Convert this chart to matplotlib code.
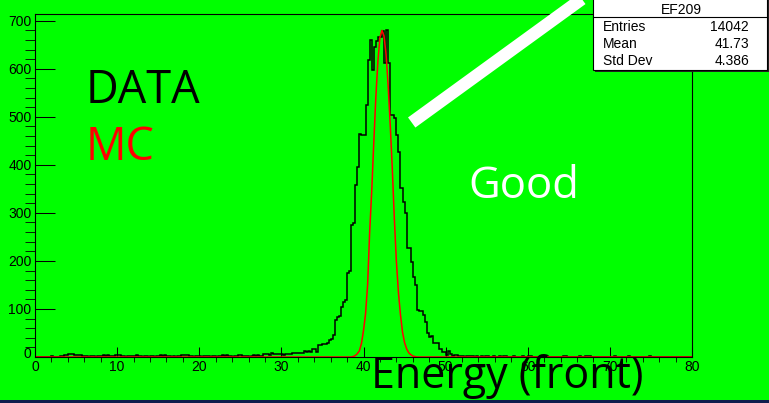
import numpy as np
import matplotlib.pyplot as plt
from matplotlib.patches import Rectangle
from matplotlib.lines import Line2D
from matplotlib.transforms import ScaledTranslation

plt.rcParams['font.family'] = ['Liberation Sans', 'DejaVu Sans']

# EF209 data histogram, 0.25 wide bins from 0 to 80
counts_low = [0, 0, 0, 0, 1, 0, 0, 0, 2, 0, 0, 1,
              3, 3, 5, 5, 6, 6, 6, 4, 5, 4, 4, 3, 3,
              2, 1, 2, 3, 1, 2, 2, 3, 4, 3, 4, 3, 2, 2,
              5, 4, 5, 3, 2, 1, 3, 2, 2, 3, 4, 3, 2,
              1, 2, 2, 1, 3, 2, 1, 2, 3, 4, 3, 4, 3, 2,
              1, 2, 1, 2, 2, 5, 4, 5, 4, 3,
              2, 1, 2, 3, 2, 1, 2, 2, 3, 1, 2, 2, 1, 3,
              3, 4, 3, 4, 2, 2, 1, 2, 3, 5, 4, 3, 2, 2, 1,
              3, 4, 3, 4, 2, 3, 7, 6, 7, 5,
              8, 7, 6, 6, 6, 6, 5, 6, 7, 7,
              8, 8, 8, 8, 9, 8, 12, 10, 12, 11,
              16, 16, 10, 25, 25, 27, 27]
counts_peak = [30, 35, 38, 46, 78, 83, 85, 105, 115, 118,
               174, 178, 275, 278, 358, 396, 465, 463, 463, 525,
               618, 660, 597, 646, 658, 667, 667, 679, 612, 680,
               612, 504, 504, 497, 462, 427, 352, 323, 299, 226,
               226, 198, 167, 150, 98, 95, 95, 87, 73, 49,
               42, 44, 29, 29, 29, 16, 11, 11, 5, 12, 6]
counts_high = [3,
               5, 4, 2, 3, 2, 1, 2, 2, 3, 3, 1, 2, 1, 2, 1, 2,
               3, 1, 1, 2, 1, 1, 2, 1, 3, 2, 1, 1, 1, 2, 1, 0,
               1, 2, 1, 1, 3, 2, 1, 0, 1, 1, 2, 1, 2, 3, 1, 0,
               1, 1, 0, 1, 1, 2, 3, 1, 0, 1, 1, 0, 1, 2, 1, 0,
               2, 3, 2, 1, 0, 1, 0, 1, 1, 0, 1, 0, 1, 0, 2, 1,
               0, 1, 0, 0, 1, 2, 1, 0, 1, 0, 1, 0, 0, 1, 0, 2,
               1, 0, 0, 1, 0, 0, 1, 0, 0, 1, 0, 0, 0, 1, 0, 0,
               0, 0, 0, 0]
counts = np.array(counts_low + counts_peak + counts_high)
edges = np.linspace(0, 80, len(counts) + 1)

# MC curve
mc_x = [0, 38.0, 38.5, 38.75, 39.0, 39.25, 39.5, 39.75, 40.0, 40.25, 40.5,
        40.75, 41.0, 41.25, 41.5, 41.75, 42.0, 42.25, 42.5, 42.75, 43.0,
        43.25, 43.5, 43.75, 44.0, 44.25, 44.5, 44.75, 45.0, 45.25, 45.5,
        45.75, 46.0, 46.25, 46.5, 80]
mc_y = [0, 0, 0, 1, 3, 7, 13, 28, 55, 90, 150,
        260, 345, 445, 540, 615, 665, 680, 668, 630, 565,
        485, 395, 290, 200, 135, 88, 52, 30, 17, 9,
        5, 2, 1, 0, 0]

hist_name = 'EF209'
stat_names = ['Entries', 'Mean', 'Std Dev']
stat_values = ['14042', '41.73', '4.386']

W, H = 769, 403
green = '#00ff00'
fig = plt.figure(figsize=(W / 100, H / 100), dpi=100, facecolor=green)
ax = fig.add_axes([35 / W, 1 - 357 / H, 657 / W, 343 / H])
ax.set_facecolor(green)

ax.stairs(counts, edges, color='black', lw=1.1)
ax.plot(mc_x, mc_y, color='red', lw=1.1)

ax.set_xlim(0, 80)
ax.set_ylim(0, 714)
ax.set_xticks(np.arange(0, 81, 10))
ax.set_xticks(np.arange(0, 81, 2), minor=True)
ax.set_yticks(np.arange(0, 701, 100))
ax.set_yticks(np.arange(0, 714, 20), minor=True)
ax.tick_params(direction='in', width=0.75, labelsize=10, colors='black')
ax.tick_params(axis='x', which='major', length=7.2, pad=2.5)
ax.tick_params(axis='x', which='minor', length=3.6)
ax.tick_params(axis='y', which='major', length=14.4, pad=2.5)
ax.tick_params(axis='y', which='minor', length=7.2)
for s in ax.spines.values():
    s.set_linewidth(0.8)

# ROOT lifts the y "0" label
yt = ax.yaxis.get_major_ticks()
yt[0].label1.set_transform(yt[0].label1.get_transform()
                           + ScaledTranslation(0, 4 / 100, fig.dpi_scale_trans))

# white diagonal bar
fig.add_artist(Line2D([411.7 / W, 608 / W], [1 - 122.5 / H, 1 + 20 / H],
                      transform=fig.transFigure, color='white', lw=9,
                      solid_capstyle='butt', zorder=5))

# stats box
bx0, bx1, by0, by1 = 592.7, 766.7, 70, -2
fig.add_artist(Rectangle(((bx0 + 2) / W, 1 - (by0 + 2) / H), (bx1 - bx0) / W,
                         (by0 - by1) / H, transform=fig.transFigure,
                         fc='#222222', ec='none', zorder=6))
fig.add_artist(Rectangle((bx0 / W, 1 - by0 / H), (bx1 - bx0) / W,
                         (by0 - by1) / H, transform=fig.transFigure,
                         fc='white', ec='black', lw=0.8, zorder=7))
fig.add_artist(Line2D([bx0 / W, bx1 / W], [1 - 16.7 / H, 1 - 16.7 / H],
                      transform=fig.transFigure, color='black', lw=0.8, zorder=8))
fig.text(681 / W, 1 - 13.5 / H, hist_name, ha='center', va='baseline',
         fontsize=10, zorder=9)
for i, (n, v) in enumerate(zip(stat_names, stat_values)):
    yb = 1 - (30.7 + i * 17.2) / H
    fig.text(603 / W, yb, n, ha='left', va='baseline', fontsize=10, zorder=9)
    fig.text(749 / W, yb, v, ha='right', va='baseline', fontsize=10, zorder=9)

# labels
fig.text(86 / W, 1 - 103 / H, 'DATA', color='black', fontsize=32.5,
         family='Open Sans', va='baseline')
fig.text(86 / W, 1 - 160 / H, 'MC', color='red', fontsize=32.5,
         family='Open Sans', va='baseline')
fig.text(468 / W, 1 - 198 / H, 'Good', color='white', fontsize=31.5,
         family='Open Sans', va='baseline')
fig.text(371 / W, 1 - 388 / H, 'Energy (front)', color='black', fontsize=31,
         family='Open Sans', va='baseline')

# strip at the bottom edge
fig.add_artist(Rectangle((0, 0), 1, 3 / H, transform=fig.transFigure,
                         fc='#0f1d4d', ec='none'))

fig.savefig('out.png', dpi=100, facecolor=green)
